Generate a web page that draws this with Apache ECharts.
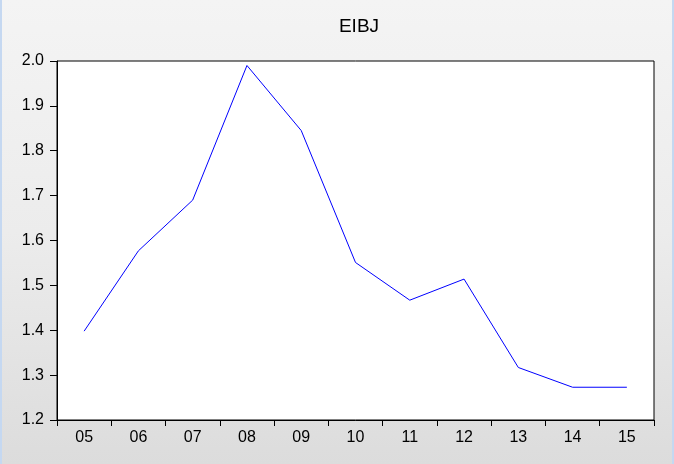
<!DOCTYPE html>
<html>
<head>
<meta charset="utf-8">
<script src="https://cdn.jsdelivr.net/npm/echarts@6/dist/echarts.min.js"></script>
<style>
  html, body {
    margin: 0;
    padding: 0;
  }
  body {
    width: 674px;
    height: 464px;
    background: linear-gradient(to bottom, #f4f4f4 0%, #ececec 50%, #dcdcdc 100%);
    position: relative;
    overflow: hidden;
  }
  .edge {
    position: absolute;
    top: 0;
    width: 2px;
    height: 464px;
    background: #c5d8f1;
  }
  #chart {
    width: 674px;
    height: 464px;
  }
</style>
</head>
<body>
<div class="edge" style="left:0"></div>
<div class="edge" style="right:0"></div>
<div id="chart"></div>
<script>
var years = ['05', '06', '07', '08', '09', '10', '11', '12', '13', '14', '15']
var eibj = [1.398, 1.577, 1.690, 1.990, 1.845, 1.551, 1.467, 1.514, 1.317, 1.273, 1.273]
var yMin = 1.2
var yMax = 2.0
var yStep = 0.1

var font = 'Liberation Sans, Arial, sans-serif'

var option = {
  animation: false,
  title: {
    text: 'EIBJ',
    left: 354,
    top: 12,
    textAlign: 'center',
    textStyle: {
      fontFamily: font,
      fontSize: 19,
      fontWeight: 'normal',
      color: '#000'
    }
  },
  grid: {
    left: 57,
    right: 20,
    top: 61,
    bottom: 44,
    show: true,
    backgroundColor: '#fff',
    borderColor: '#000',
    borderWidth: 1
  },
  xAxis: {
    type: 'category',
    data: years,
    boundaryGap: true,
    axisLine: { lineStyle: { color: '#000', width: 1 } },
    axisTick: { show: true, length: 6, lineStyle: { color: '#000' } },
    axisLabel: {
      margin: 10,
      fontFamily: font,
      fontSize: 16,
      color: '#000'
    },
    splitLine: { show: false }
  },
  yAxis: {
    type: 'value',
    min: yMin,
    max: yMax,
    interval: yStep,
    axisLine: { show: true, lineStyle: { color: '#000', width: 1 } },
    axisTick: { show: true, length: 7, lineStyle: { color: '#000' } },
    axisLabel: {
      margin: 13,
      fontFamily: font,
      fontSize: 16,
      color: '#000',
      formatter: function (v) { return v.toFixed(1) }
    },
    splitLine: { show: false }
  },
  series: [
    {
      name: 'EIBJ',
      type: 'line',
      data: eibj,
      symbol: 'none',
      lineStyle: { color: '#0000ff', width: 1 }
    }
  ]
}

var myChart = echarts.init(document.getElementById('chart'))
myChart.setOption(option)
</script>
</body>
</html>
